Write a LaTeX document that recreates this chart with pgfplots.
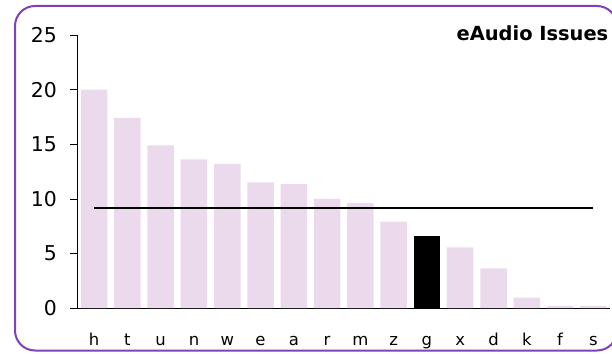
\documentclass[border=0pt]{standalone}
\usepackage{pgfplots}
\pgfplotsset{compat=1.18}
\usepackage{fontspec}
\setmainfont{DejaVu Sans}
\definecolor{barc}{RGB}{234,218,236}
\definecolor{framec}{RGB}{128,64,184}
\begin{document}
\begin{tikzpicture}[x=1bp,y=1bp]
\useasboundingbox (0,0) rectangle (612,353);
\draw[framec, line width=2bp, rounded corners=20bp] (15,2.5) rectangle (617,347);
\begin{axis}[at={(77.5bp,45bp)}, anchor=south west, scale only axis,
  width=532.5bp, height=273bp,
  xmin=-0.5, xmax=15.5, ymin=0, ymax=25,
  axis x line=bottom, axis y line=left,
  axis line style={-, line width=1bp},
  xtick={0,...,15}, xticklabels={h,t,u,n,w,e,a,r,m,z,g,x,d,k,f,s},
  x tick style={draw=none},
  ytick={0,5,10,15,20,25},
  tick align=outside, major tick length=7.5bp,
  y tick style={black, line width=0.6bp},
  /pgf/number format/assume math mode=true,
  yticklabel style={font=\fontsize{20.5}{24}\selectfont, inner sep=0pt, xshift=-13bp},
  xticklabel style={font=\fontsize{16.5}{19}\selectfont, anchor=base, inner sep=0pt, yshift=-30bp},
  clip=false,
]
\addplot[ybar, bar width=26.5bp, fill=barc, draw=none] coordinates {
(0,20.0) (1,17.4) (2,14.9) (3,13.6) (4,13.2) (5,11.5) (6,11.35) (7,10.0)
(8,9.6) (9,7.9) (11,5.56) (12,3.63) (13,0.94) (14,0.18) (15,0.18)};
\addplot[ybar, bar width=26.5bp, fill=black, draw=none] coordinates {(10,6.6)};
\addplot[black, line width=2.2bp] coordinates {(0,9.15) (15,9.15)};
\end{axis}
\node[anchor=east, inner sep=0pt, font=\bfseries\fontsize{19.5}{22}\selectfont] at (608.5,320) {eAudio Issues};
\end{tikzpicture}
\end{document}
